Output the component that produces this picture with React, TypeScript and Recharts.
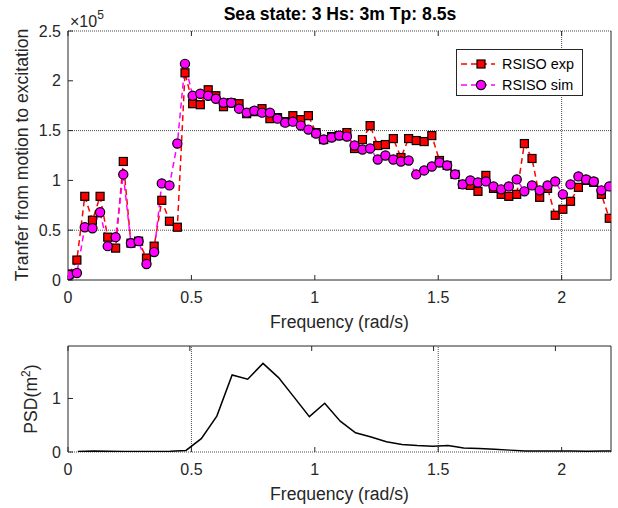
import { Legend, Line, LineChart, ReferenceLine, XAxis, YAxis } from "recharts";

// frequency grid of the transfer test (rad/s)
const freq = [
  0.005, 0.036, 0.068, 0.099, 0.13, 0.161, 0.193, 0.224, 0.255, 0.286,
  0.318, 0.349, 0.38, 0.411, 0.443, 0.474, 0.505, 0.536, 0.568, 0.599,
  0.63, 0.661, 0.693, 0.724, 0.755, 0.786, 0.818, 0.849, 0.88, 0.911,
  0.943, 0.974, 1.005, 1.036, 1.068, 1.099, 1.13, 1.161, 1.193, 1.224,
  1.255, 1.286, 1.318, 1.349, 1.38, 1.411, 1.443, 1.474, 1.505, 1.536,
  1.568, 1.599, 1.63, 1.661, 1.693, 1.724, 1.755, 1.786, 1.818, 1.849,
  1.88, 1.911, 1.943, 1.974, 2.005, 2.036, 2.068, 2.099, 2.13, 2.161,
  2.193,
];

// transfer values, x 1e5
const expTransfer = [
  0.06, 0.2, 0.84, 0.6, 0.84, 0.43, 0.32, 1.19, 0.37, 0.39,
  0.22, 0.34, 0.8, 0.59, 0.53, 2.08, 1.77, 1.76, 1.91, 1.85,
  1.74, 1.78, 1.77, 1.67, 1.69, 1.72, 1.62, 1.63, 1.59, 1.65,
  1.61, 1.65, 1.48, 1.41, 1.44, 1.45, 1.48, 1.32, 1.41, 1.55,
  1.35, 1.36, 1.42, 1.23, 1.42, 1.4, 1.39, 1.45, 1.2, 1.15,
  1.06, 0.96, 0.95, 0.89, 1.05, 0.92, 0.86, 0.84, 0.86, 1.37,
  1.22, 0.83, 0.92, 0.65, 0.71, 0.79, 0.93, 1.0, 0.98, 0.86,
  0.62,
];

const simTransfer = [
  0.05, 0.07, 0.53, 0.52, 0.68, 0.34, 0.43, 1.06, 0.37, 0.39,
  0.16, 0.28, 0.97, 0.95, 1.37, 2.17, 1.85, 1.87, 1.85, 1.82,
  1.78, 1.78, 1.72, 1.68, 1.7, 1.68, 1.68, 1.62, 1.58, 1.59,
  1.55, 1.51, 1.47, 1.41, 1.43, 1.45, 1.44, 1.35, 1.31, 1.32,
  1.21, 1.25, 1.21, 1.19, 1.2, 1.06, 1.1, 1.14, 1.18, 1.15,
  1.06, 0.96, 1.0, 0.98, 0.99, 0.94, 0.91, 0.94, 1.01, 0.89,
  0.95, 0.9, 0.95, 0.99, 0.86, 0.96, 1.04, 1.01, 0.99, 0.9,
  0.94,
];

// wave spectrum
const psdFreq = [
  0.04, 0.103, 0.165, 0.228, 0.29, 0.353, 0.415, 0.478,
  0.54, 0.603, 0.665, 0.728, 0.79, 0.853, 0.915, 0.978, 1.04, 1.103,
  1.165, 1.228, 1.29, 1.353, 1.415, 1.478, 1.54, 1.603, 1.665, 1.728,
  1.79, 1.853, 1.915, 1.978, 2.04, 2.103, 2.165, 2.228,
];

const psdValue = [
  0.01, 0.02, 0.015, 0.01, 0.01, 0.01, 0.015, 0.03,
  0.25, 0.67, 1.44, 1.36, 1.655, 1.39, 1.03, 0.66, 0.91, 0.575,
  0.36, 0.28, 0.19, 0.14, 0.12, 0.107, 0.12, 0.075, 0.065, 0.05,
  0.035, 0.02, 0.02, 0.02, 0.02, 0.015, 0.02, 0.02,
];

const freqTicks = [0, 0.5, 1, 1.5, 2];
const transferTicks = [0, 0.5, 1, 1.5, 2, 2.5];
const psdTicks = [0, 1];

const transferData = freq.map((f, i) => ({
  f,
  exp: expTransfer[i],
  sim: simTransfer[i],
}));
const psdData = psdFreq.map((f, i) => ({ f, psd: psdValue[i] }));

const FONT = "'Liberation Sans', Arial, Helvetica, sans-serif";
const AXIS = "#262626";
const DOTTED = "#4d4d4d";
const tickStyle = { fill: AXIS, fontSize: 16, fontFamily: FONT };

// mirrored box axes: tick marks only, no labels
const noTickLabel = () => <g />;

const renderSquare = (props: any) => {
  const { cx, cy, index } = props;
  if (cx == null || cy == null) return <g key={index} />;
  return (
    <rect
      key={index}
      x={cx - 4}
      y={cy - 4}
      width={8}
      height={8}
      fill="#ff0000"
      stroke="#000"
      strokeWidth={1.2}
    />
  );
};

const renderCircle = (props: any) => {
  const { cx, cy, index } = props;
  if (cx == null || cy == null) return <g key={index} />;
  return (
    <circle
      key={index}
      cx={cx}
      cy={cy}
      r={4.6}
      fill="#ff00ff"
      stroke="#000"
      strokeWidth={1.2}
    />
  );
};

const renderLegend = () => (
  <div
    style={{
      position: "relative",
      width: 127,
      height: 47,
      boxSizing: "border-box",
      border: `1px solid ${AXIS}`,
      background: "#fff",
      fontFamily: FONT,
      fontSize: 14.4,
      color: "#000",
    }}
  >
    {[
      { name: "RSISO exp", color: "#ff0000", shape: "square", top: 6 },
      { name: "RSISO sim", color: "#ff00ff", shape: "circle", top: 27 },
    ].map((item) => (
      <div
        key={item.name}
        style={{ position: "absolute", left: 3, top: item.top, height: 16 }}
      >
        <svg width={40} height={16} style={{ position: "absolute", left: 0, top: 0 }}>
          <line
            x1={1}
            y1={8}
            x2={35}
            y2={8}
            stroke={item.color}
            strokeWidth={1.5}
            strokeDasharray="6 4"
          />
          {item.shape === "square" ? (
            <rect x={17} y={4} width={8} height={8} fill={item.color} stroke="#000" strokeWidth={1.2} />
          ) : (
            <circle cx={21} cy={8} r={4.6} fill={item.color} stroke="#000" strokeWidth={1.2} />
          )}
        </svg>
        <span
          style={{
            position: "absolute",
            left: 42,
            top: 0,
            lineHeight: "16px",
            whiteSpace: "nowrap",
          }}
        >
          {item.name}
        </span>
      </div>
    ))}
  </div>
);

const TopDecor = () => (
  <g fontFamily={FONT}>
    <text
      x={340}
      y={20}
      textAnchor="middle"
      fontWeight="bold"
      fontSize={17.6}
      fill="#000"
    >
      Sea state: 3 Hs: 3m Tp: 8.5s
    </text>
    <text x={70} y={26.5} fontSize={16} fill={AXIS}>
      ×10
      <tspan dy={-8} fontSize={12}>
        5
      </tspan>
    </text>
  </g>
);

const TransferYLabel = () => (
  <text
    x={28}
    y={155}
    transform="rotate(-90, 28, 155)"
    textAnchor="middle"
    fontSize={17.6}
    fontFamily={FONT}
    fill={AXIS}
  >
    Tranfer from motion to excitation
  </text>
);

const PsdYLabel = () => (
  <text
    x={37}
    y={59}
    transform="rotate(-90, 37, 59)"
    textAnchor="middle"
    fontSize={17.6}
    fontFamily={FONT}
    fill={AXIS}
  >
    PSD(m
    <tspan dy={-7} fontSize={12}>
      2
    </tspan>
    <tspan dy={7}>)</tspan>
  </text>
);

export default function App() {
  return (
    <div
      style={{
        position: "absolute",
        left: 0,
        top: 0,
        width: 618,
        height: 508,
        background: "#fff",
        fontFamily: FONT,
      }}
    >
      <div style={{ position: "absolute", left: 0, top: 0 }}>
        <LineChart
          width={618}
          height={340}
          data={transferData}
          margin={{ top: 30, right: 6, bottom: 0, left: 0 }}
        >
          <XAxis
            dataKey="f"
            type="number"
            domain={[0, 2.2]}
            ticks={freqTicks}
            allowDataOverflow
            height={60}
            stroke={AXIS}
            tickSize={-5}
            tickMargin={17}
            tick={tickStyle}
            label={{
              value: "Frequency (rad/s)",
              position: "insideBottom",
              offset: 12,
              fill: AXIS,
              fontSize: 17.6,
              fontFamily: FONT,
            }}
          />
          <XAxis
            xAxisId="top"
            orientation="top"
            dataKey="f"
            type="number"
            domain={[0, 2.2]}
            ticks={freqTicks}
            height={1}
            axisLine={false}
            stroke={AXIS}
            tickSize={-5}
            tick={noTickLabel}
            label={{ content: () => <TopDecor /> }}
          />
          <YAxis
            type="number"
            domain={[0, 2.5]}
            ticks={transferTicks}
            width={68}
            stroke={AXIS}
            tickSize={-5}
            tickMargin={12}
            tick={tickStyle}
            label={{ content: () => <TransferYLabel /> }}
          />
          <YAxis
            yAxisId="right"
            orientation="right"
            type="number"
            domain={[0, 2.5]}
            ticks={transferTicks}
            width={1}
            stroke={AXIS}
            tickSize={-5}
            tick={noTickLabel}
          />
          <ReferenceLine y={0.5} stroke={DOTTED} strokeDasharray="1 1" />
          <ReferenceLine y={1.5} stroke={DOTTED} strokeDasharray="1 1" />
          <ReferenceLine y={2.5} stroke={DOTTED} strokeDasharray="1 1" />
          <ReferenceLine x={2} stroke={DOTTED} strokeDasharray="1 1" />
          <Legend
            content={renderLegend}
            layout="horizontal"
            verticalAlign="middle"
            align="center"
            wrapperStyle={{ left: 456, top: 49, width: 127, height: 47 }}
          />
          <Line
            dataKey="exp"
            name="RSISO exp"
            stroke="#ff0000"
            strokeWidth={1.5}
            strokeDasharray="6 4"
            dot={renderSquare}
            activeDot={false}
            isAnimationActive={false}
          />
          <Line
            dataKey="sim"
            name="RSISO sim"
            stroke="#ff00ff"
            strokeWidth={1.5}
            strokeDasharray="6 4"
            dot={renderCircle}
            activeDot={false}
            isAnimationActive={false}
          />
        </LineChart>
      </div>

      <div style={{ position: "absolute", left: 0, top: 340 }}>
        <LineChart
          width={618}
          height={168}
          data={psdData}
          margin={{ top: 5, right: 6, bottom: 0, left: 0 }}
        >
          <XAxis
            dataKey="f"
            type="number"
            domain={[0, 2.2]}
            ticks={freqTicks}
            allowDataOverflow
            height={56}
            axisLine={false}
            stroke={AXIS}
            tickSize={-5}
            tickMargin={17}
            tick={tickStyle}
            label={{
              value: "Frequency (rad/s)",
              position: "insideBottom",
              offset: 8,
              fill: AXIS,
              fontSize: 17.6,
              fontFamily: FONT,
            }}
          />
          <XAxis
            xAxisId="top"
            orientation="top"
            dataKey="f"
            type="number"
            domain={[0, 2.2]}
            ticks={freqTicks}
            height={1}
            stroke={AXIS}
            tickSize={-5}
            tick={noTickLabel}
          />
          <YAxis
            type="number"
            domain={[0, 1.98]}
            ticks={psdTicks}
            allowDataOverflow
            width={68}
            stroke={AXIS}
            tickSize={-5}
            tickMargin={12}
            tick={tickStyle}
            label={{ content: () => <PsdYLabel /> }}
          />
          <YAxis
            yAxisId="right"
            orientation="right"
            type="number"
            domain={[0, 1.98]}
            ticks={psdTicks}
            width={1}
            stroke={AXIS}
            tickSize={-5}
            tick={noTickLabel}
          />
          <ReferenceLine y={0} stroke={DOTTED} strokeDasharray="1 1" />
          <ReferenceLine x={0.5} stroke={DOTTED} strokeDasharray="1 1" />
          <ReferenceLine x={1.5} stroke={DOTTED} strokeDasharray="1 1" />
          <Line
            dataKey="psd"
            stroke="#000"
            strokeWidth={1.5}
            dot={false}
            activeDot={false}
            isAnimationActive={false}
          />
        </LineChart>
      </div>
    </div>
  );
}
